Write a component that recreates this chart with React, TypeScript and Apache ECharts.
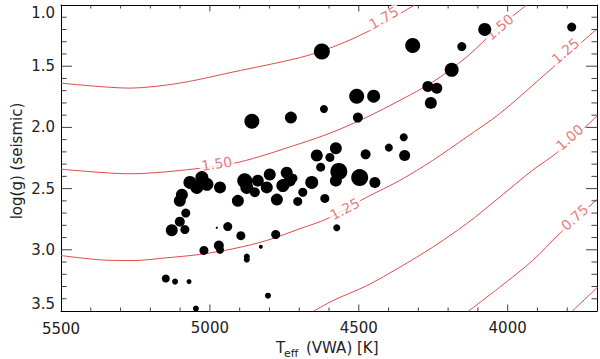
import React, { useEffect, useRef } from "react";
import * as echarts from "echarts";

// ---- star data (Teff [K], seismic log g, marker diameter) ----
const teff = [
  4624, 4319, 4077, 3785, 4154, 4188, 4268, 4238, 4258, 4507,
  4450, 4617, 4503, 4728, 4859, 4349, 4399, 4577, 4641, 4597,
  4477, 4346, 4628, 4567, 4497, 4577, 4446, 4658, 4721, 4688,
  4705, 4614, 4574, 5067, 5027, 5010, 5044, 5094, 5101, 4966,
  4883, 4876, 4839, 4849, 4799, 4742, 4809, 4755, 4732, 4775,
  4906, 5081, 5101, 5128, 5084, 4977, 4940, 4896, 4779, 5020,
  4970, 4966, 4876, 4876, 4829, 5148, 5117, 5070, 4805, 5047,
];
const logg = [
  1.38, 1.33, 1.2, 1.18, 1.34, 1.53, 1.665, 1.68, 1.8, 1.745,
  1.745, 1.85, 1.92, 1.92, 1.95, 2.08, 2.165, 2.17, 2.23, 2.245,
  2.22, 2.23, 2.325, 2.36, 2.41, 2.435, 2.45, 2.45, 2.415, 2.53,
  2.605, 2.58, 2.82, 2.45, 2.41, 2.465, 2.49, 2.55, 2.6, 2.49,
  2.435, 2.49, 2.435, 2.53, 2.385, 2.37, 2.49, 2.475, 2.435, 2.59,
  2.6, 2.7, 2.77, 2.84, 2.835, 2.82, 2.81, 2.885, 2.875, 3.005,
  2.965, 3.0, 3.055, 3.08, 2.975, 3.235, 3.26, 3.26, 3.375, 3.48,
];
const dotDiameter = [
  16, 15, 13, 9, 9, 14, 11, 11, 12, 15,
  13, 8, 10, 12, 15, 8, 8, 12, 12, 9,
  10, 11, 9, 17, 17, 12, 11, 13, 9, 9,
  9, 9, 7, 13, 13, 13, 13, 12, 12, 12,
  15, 13, 12, 10, 12, 12, 12, 13, 12, 12,
  12, 9, 10, 12, 9, 2, 9, 9, 9, 9,
  10, 8, 6, 6, 4, 8, 6, 5, 6, 6,
];

// ---- contour lines ----
const c175T = [5500, 5268, 5101, 4923, 4698, 4587, 4473, 4312];
const c175G = [1.638, 1.679, 1.638, 1.548, 1.43, 1.343, 1.221, 1.0];
const c150T = [5500, 5268, 5101, 4906, 4698, 4587, 4473, 4362, 4252, 4138, 4034, 3936];
const c150G = [2.341, 2.379, 2.352, 2.286, 2.133, 2.038, 1.916, 1.779, 1.63, 1.425, 1.19, 1.0];
const c125T = [5500, 5369, 5258, 5144, 5034, 4923, 4809, 4698, 4607, 4473, 4362, 4252, 4138, 4027, 3859, 3698];
const c125G = [3.047, 3.082, 3.088, 3.065, 3.038, 2.992, 2.924, 2.828, 2.747, 2.57, 2.433, 2.27, 2.079, 1.888, 1.534, 1.19];
const c100T = [4654, 4587, 4473, 4362, 4252, 4138, 4027, 3916, 3832, 3698];
const c100G = [3.505, 3.415, 3.293, 3.142, 2.979, 2.787, 2.57, 2.349, 2.202, 1.902];
const c075T = [4134, 4027, 3916, 3826, 3698];
const c075G = [3.505, 3.306, 3.087, 2.869, 2.583];
const c050T = [3785, 3698];
const c050G = [3.505, 3.306];

const contourLabelText = ["1.75", "1.50", "1.50", "1.25", "1.25", "1.00", "0.75"];
const contourLabelT = [4416, 4977, 4027, 4547, 3806, 3792, 3775];
const contourLabelG = [1.104, 2.297, 1.18, 2.666, 1.376, 2.082, 2.736];
const contourLabelAngle = [29, 9, 40, 27, 41, 42, 42];

// ---- axes ----
const xMin = 3700;
const xMax = 5500;
const xMinorTicks = [3800, 3900, 4100, 4200, 4300, 4400, 4600, 4700, 4800, 4900, 5100, 5200, 5300, 5400];
const xMajorTicks = [4000, 4500, 5000];
const xTickLabels = [4000, 4500, 5000];
const xEdgeLabel = 5500;
const yMin = 1.0;
const yMax = 3.5;
const yMajorTicks = [1.5, 2.0, 2.5, 3.0];
const yMinorTicks = [1.1, 1.2, 1.3, 1.4, 1.6, 1.7, 1.8, 1.9, 2.1, 2.2, 2.3, 2.4, 2.6, 2.7, 2.8, 2.9, 3.1, 3.2, 3.3, 3.4];

const FONT = "DejaVu Sans";
const TEXT = "#222";
const RED = "#e24a4a";

function tickSeries(data: number[][], size: number[], offset: number[]) {
  return {
    type: "scatter",
    data,
    symbol: "rect",
    symbolSize: size,
    symbolOffset: offset,
    itemStyle: { color: "#111" },
    silent: true,
    clip: false,
    z: 6,
  };
}

export default function App() {
  const ref = useRef<HTMLDivElement>(null);

  useEffect(() => {
    if (!ref.current) return;
    const chart = echarts.init(ref.current, undefined, { renderer: "svg" });

    const curves = [
      [c175T, c175G],
      [c150T, c150G],
      [c125T, c125G],
      [c100T, c100G],
      [c075T, c075G],
      [c050T, c050G],
    ];

    const lineSeries = curves.map(([ts, gs]) => ({
      type: "line",
      data: ts.map((t, i) => [t, gs[i]]),
      smooth: 0.3,
      showSymbol: false,
      symbol: "none",
      lineStyle: { color: RED, width: 1 },
      silent: true,
      z: 2,
      clip: true,
    }));

    const labelData = contourLabelText.map((txt, i) => ({
      value: [contourLabelT[i], contourLabelG[i]],
      label: { rotate: contourLabelAngle[i] },
    }));

    const ticks = [
      // bottom (y = yMax because the y axis is inverted) and top frame
      tickSeries(xMinorTicks.map((v) => [v, yMax]), [1, 3.5], [0, -1.75]),
      tickSeries(xMajorTicks.map((v) => [v, yMax]), [1, 6.5], [0, -3.25]),
      tickSeries(xMinorTicks.map((v) => [v, yMin]), [1, 3.5], [0, 1.75]),
      tickSeries(xMajorTicks.map((v) => [v, yMin]), [1, 6.5], [0, 3.25]),
      // left (x = xMax because the x axis is inverted) and right frame
      tickSeries(yMinorTicks.map((v) => [xMax, v]), [5.5, 1], [2.75, 0]),
      tickSeries(yMajorTicks.map((v) => [xMax, v]), [11, 1], [5.5, 0]),
      tickSeries(yMinorTicks.map((v) => [xMin, v]), [5.5, 1], [-2.75, 0]),
      tickSeries(yMajorTicks.map((v) => [xMin, v]), [11, 1], [-5.5, 0]),
    ];

    const titleGraphics: any[] = [
      {
        id: "ytitle",
        type: "text",
        x: 17,
        y: 161,
        rotation: Math.PI / 2,
        style: {
          text: "log(g) (seismic)",
          font: `15px "${FONT}"`,
          fill: TEXT,
          align: "center",
          verticalAlign: "middle",
        },
      },
      {
        id: "xtitleT",
        type: "text",
        x: 276,
        y: 347.5,
        style: { text: "T", font: `15px "${FONT}"`, fill: TEXT, align: "left", verticalAlign: "middle" },
      },
      {
        id: "xtitleSub",
        type: "text",
        x: 284,
        y: 353,
        style: { text: "eff", font: `11px "${FONT}"`, fill: TEXT, align: "left", verticalAlign: "middle" },
      },
      {
        id: "xtitleRest",
        type: "text",
        x: 306,
        y: 347.5,
        style: { text: "(VWA) [K]", font: `15px "${FONT}"`, fill: TEXT, align: "left", verticalAlign: "middle" },
      },
    ];

    const option = {
      animation: false,
      grid: { left: 61, right: 3, top: 5, bottom: 48, containLabel: false },
      xAxis: [
        {
          type: "value",
          min: xMin,
          max: xMax,
          inverse: true,
          position: "bottom",
          splitLine: { show: false },
          axisLine: { show: true, onZero: false, lineStyle: { color: "#000", width: 1 } },
          axisTick: { show: false },
          axisLabel: {
            show: true,
            customValues: xTickLabels,
            hideOverlap: false,
            margin: 9,
            fontSize: 15,
            fontFamily: FONT,
            color: TEXT,
            formatter: (v: number) => String(v),
          },
        },
        {
          type: "value",
          min: xMin,
          max: xMax,
          inverse: true,
          position: "top",
          splitLine: { show: false },
          axisLine: { show: true, onZero: false, lineStyle: { color: "#000", width: 1 } },
          axisTick: { show: false },
          axisLabel: { show: false },
        },
      ],
      yAxis: [
        {
          type: "value",
          position: "left",
          min: yMin,
          max: yMax,
          interval: 0.5,
          inverse: true,
          splitLine: { show: false },
          axisLine: { show: true, onZero: false, lineStyle: { color: "#000", width: 1 } },
          axisTick: { show: false },
          axisLabel: {
            show: true,
            margin: 6,
            fontSize: 15,
            fontFamily: FONT,
            color: TEXT,
            showMinLabel: true,
            showMaxLabel: true,
            verticalAlignMinLabel: "top",
            verticalAlignMaxLabel: "bottom",
            formatter: (v: number) => v.toFixed(1),
          },
        },
        {
          type: "value",
          position: "right",
          min: yMin,
          max: yMax,
          inverse: true,
          splitLine: { show: false },
          axisLine: { show: true, onZero: false, lineStyle: { color: "#000", width: 1 } },
          axisTick: { show: false },
          axisLabel: { show: false },
        },
      ],
      series: [
        ...lineSeries,
        {
          type: "scatter",
          data: labelData,
          symbolSize: 1,
          itemStyle: { color: "rgba(0,0,0,0)" },
          silent: true,
          z: 3,
          label: {
            show: true,
            position: "inside",
            formatter: (p: any) => contourLabelText[p.dataIndex],
            color: "#e05a5a",
            fontSize: 14,
            fontFamily: FONT,
            backgroundColor: "#ffffff",
            padding: [0, 2],
          },
        },
        {
          type: "scatter",
          data: teff.map((t, i) => [t, logg[i], dotDiameter[i]]),
          symbol: "circle",
          symbolSize: (v: number[]) => v[2],
          itemStyle: { color: "#000", opacity: 1 },
          silent: true,
          z: 4,
        },
        ...ticks,
      ],
      graphic: titleGraphics,
    };

    chart.setOption(option as any);

    // edge tick label (5500) placed through the axis scale
    const px = chart.convertToPixel({ xAxisIndex: 0 }, xEdgeLabel) as number;
    const py = chart.convertToPixel({ yAxisIndex: 0 }, yMax) as number;
    chart.setOption({
      graphic: [
        ...titleGraphics,
        {
          id: "xEdge",
          type: "text",
          x: px,
          y: py + 17.5,
          style: {
            text: String(xEdgeLabel),
            font: `15px "${FONT}"`,
            fill: TEXT,
            align: "center",
            verticalAlign: "middle",
          },
        },
      ],
    } as any);

    return () => chart.dispose();
  }, []);

  return (
    <div
      ref={ref}
      style={{ position: "fixed", left: 0, top: 0, width: 600, height: 359, background: "#fff" }}
    />
  );
}
